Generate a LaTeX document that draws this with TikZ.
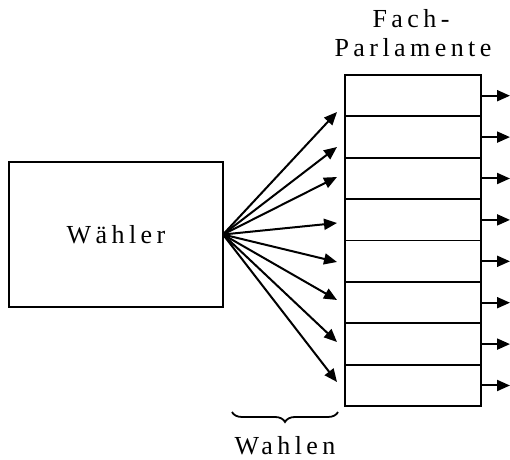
\documentclass[tikz,border=0pt]{standalone}
\usepackage{fontspec}
\setmainfont{Liberation Serif}[LetterSpace=17]
\usetikzlibrary{arrows.meta, decorations.pathreplacing, positioning}

\tikzset{
  kasten/.style = {draw, line width=0.9pt, inner sep=0pt, outer sep=0pt},
  feld/.style = {kasten, minimum width=68pt, minimum height=20.7pt},
  pfeil/.style = {line width=1pt, -{Triangle[length=6.5pt,width=5.5pt]}},
}

\begin{document}
\begin{tikzpicture}[x=0.5pt, y=-0.5pt, font=\fontsize{13}{15}\selectfont]
\useasboundingbox (0,0) rectangle (510,460);
\path (116,234.5) node[kasten, minimum width=107pt, minimum height=72.5pt] (W) {Wähler};
\foreach \i in {1,...,8}
  \path (413,54.3+41.4*\i) node[feld] (r\i) {};
\path (411,28) node[anchor=base] (fach) {Fach-};
\path (413,57) node[anchor=base] (parl) {Parlamente};
\foreach \i/\y in {1/112, 2/147, 3/177, 4/223, 5/262, 6/300, 7/342, 8/382} {
  \coordinate (t\i) at (337,\y);
  \draw[pfeil] (W.east) -- (t\i);
  \draw[pfeil] (r\i.east) -- ++(29,0);
}
\draw[decorate, decoration={brace, mirror, amplitude=5pt}, line width=0.9pt] (232,412) -- (338,412);
\path (285,455) node[anchor=base] (wahl) {Wahlen};
\end{tikzpicture}
\end{document}
